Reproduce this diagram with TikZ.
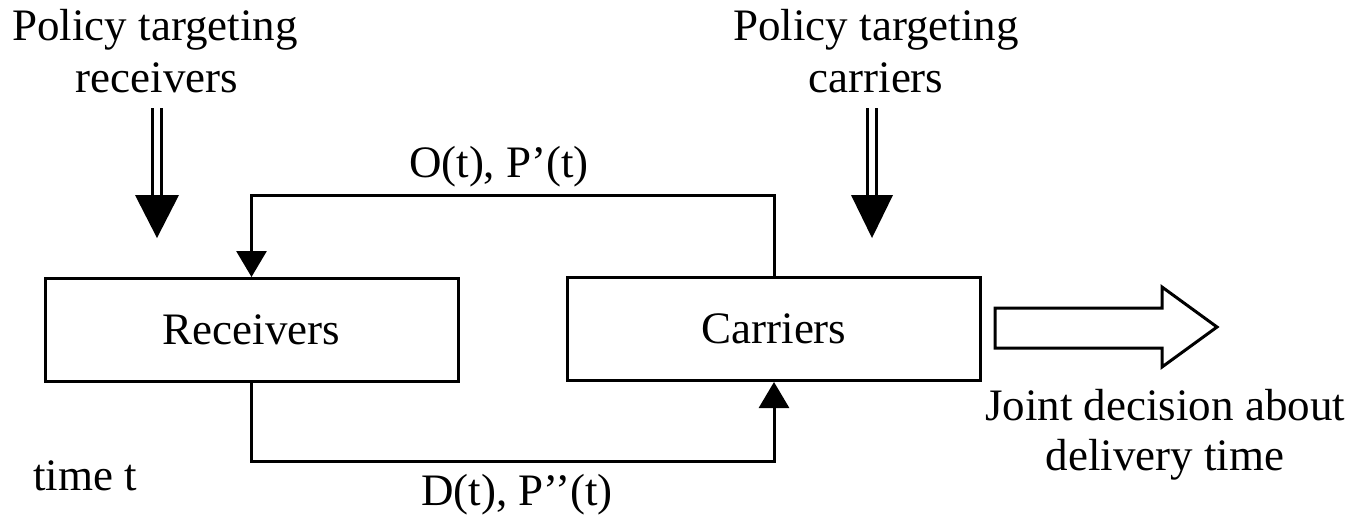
\documentclass[tikz,border=0pt]{standalone}
\usepackage{fontspec}
\setmainfont{Liberation Serif}
\usetikzlibrary{arrows.meta}
\begin{document}
\begin{tikzpicture}[x=0.5pt,y=-0.5pt,
  lbl/.style={font=\fontsize{22.5}{25}\selectfont, inner sep=0pt, anchor=base},
  box/.style={draw, line width=1.5pt, minimum width=206.5pt, minimum height=51.5pt, inner sep=0pt, font=\fontsize{22.5}{25}\selectfont},
  conn/.style={line width=1.5pt, -{Triangle[width=15pt,length=13pt]}},
  pol/.style={double, double distance=2.6pt, line width=1.7pt},
  headtri/.style={fill=black},
  hollow/.style={draw, line width=1.5pt, line join=miter},
]
\useasboundingbox (0,0) rectangle (1355,515);

% boxes
\node[box] (rec) at (251.5,330) {Receivers};
\node[box] (car) at (774,329) {Carriers};

% policy labels
\node[lbl] (pr1) at (155,40) {Policy targeting};
\node[lbl] (pr2) at (157,92) {receivers};
\node[lbl] (pc1) at (876,40) {Policy targeting};
\node[lbl] (pc2) at (876,92) {carriers};

% policy arrows
\coordinate (pra) at (157,108);
\coordinate (prb) at (157,196);
\draw[pol] (pra) -- (prb);
\fill[headtri] (135,195) -- (179,195) -- (157,238) -- cycle;
\coordinate (pca) at (872,108);
\coordinate (pcb) at (872,196);
\draw[pol] (pca) -- (pcb);
\fill[headtri] (851,195) -- (893,195) -- (872,238) -- cycle;

% feedback connectors
\draw[conn] (car.north) -- ++(0,-81) -| (rec.north);
\draw[conn] (rec.south) -- ++(0,78) -| (car.south);
\node[lbl] (o) at (499,177) {O(t), P’(t)};
\node[lbl] (d) at (517,505) {D(t), P’’(t)};

\node[lbl] (t) at (85,490) {time t};

% output arrow
\draw[hollow] (995,308) -- (1162,308) -- (1162,287) -- (1217,327) -- (1162,367) -- (1162,348) -- (995,348) -- cycle;
\node[lbl] (j1) at (1165,420) {Joint decision about};
\node[lbl] (j2) at (1165,470) {delivery time};
\end{tikzpicture}
\end{document}
